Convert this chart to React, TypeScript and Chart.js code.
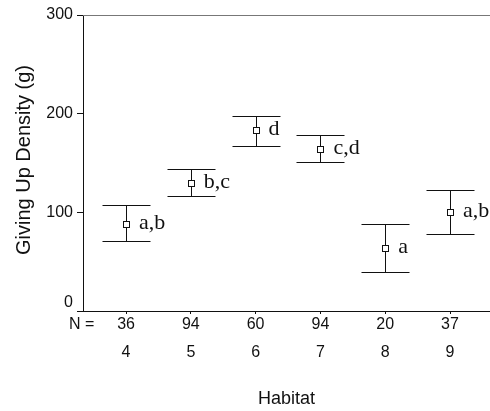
import React, { useEffect, useRef } from "react";
import { Chart, registerables } from "chart.js";

Chart.register(...registerables);

const habitats = [4, 5, 6, 7, 8, 9];
const sampleSizes = ["36", "94", "60", "94", "20", "37"];
const means = [88, 130, 183, 164, 64, 100];
const upper = [107, 144, 198, 178, 88, 123];
const lower = [71, 117, 167, 151, 40, 78];
const groupLetters = ["a,b", "b,c", "d", "c,d", "a", "a,b"];
const yTicks = [0, 100, 200, 300];

const SANS = 'Arial, "Liberation Sans", sans-serif';
const SERIF = '"Times New Roman", "Liberation Serif", serif';

const decorPlugin = {
  id: "decor",
  afterDatasetsDraw(chart: any) {
    const { ctx, chartArea, scales } = chart;
    const xs = scales.x;
    const ys = scales.y;
    ctx.save();
    // top frame line
    ctx.strokeStyle = "#777";
    ctx.lineWidth = 1;
    ctx.beginPath();
    ctx.moveTo(chartArea.left, chartArea.top + 0.5);
    ctx.lineTo(chartArea.right, chartArea.top + 0.5);
    ctx.stroke();

    // error bars
    ctx.strokeStyle = "#111";
    ctx.lineWidth = 1;
    habitats.forEach((h, i) => {
      const x = Math.round(xs.getPixelForValue(h)) + 0.5;
      const yt = Math.round(ys.getPixelForValue(upper[i])) + 0.5;
      const yb = Math.round(ys.getPixelForValue(lower[i])) + 0.5;
      const half = 24;
      ctx.beginPath();
      ctx.moveTo(x, yt);
      ctx.lineTo(x, yb);
      ctx.moveTo(x - half, yt);
      ctx.lineTo(x + half, yt);
      ctx.moveTo(x - half, yb);
      ctx.lineTo(x + half, yb);
      ctx.stroke();
    });

    // mean markers
    habitats.forEach((h, i) => {
      const x = Math.round(xs.getPixelForValue(h));
      const y = Math.round(ys.getPixelForValue(means[i]));
      ctx.fillStyle = "#fff";
      ctx.fillRect(x - 3, y - 3, 6, 6);
      ctx.strokeStyle = "#111";
      ctx.strokeRect(x - 2.5, y - 2.5, 6, 6);
    });

    // group letters
    ctx.fillStyle = "#111";
    ctx.font = `22px ${SERIF}`;
    ctx.textAlign = "left";
    ctx.textBaseline = "alphabetic";
    habitats.forEach((h, i) => {
      const x = xs.getPixelForValue(h) + 13;
      const y = ys.getPixelForValue(means[i]) + 5;
      ctx.fillText(groupLetters[i], x, y);
    });

    // N = label
    ctx.font = `16px ${SANS}`;
    ctx.textBaseline = "middle";
    ctx.fillText("N =", 69, 325);

    // axis titles
    ctx.font = `18px ${SANS}`;
    ctx.textAlign = "center";
    ctx.fillText("Habitat", (chartArea.left + chartArea.right) / 2, 399);

    ctx.save();
    ctx.translate(24, 160);
    ctx.rotate(-Math.PI / 2);
    ctx.font = `20px ${SANS}`;
    ctx.textAlign = "center";
    ctx.textBaseline = "middle";
    ctx.fillText("Giving Up Density (g)", 0, 0);
    ctx.restore();

    ctx.restore();
  },
};

export default function App() {
  const ref = useRef<HTMLCanvasElement | null>(null);
  useEffect(() => {
    if (!ref.current) return;
    const chart = new Chart(ref.current, {
      type: "scatter",
      data: {
        datasets: [
          {
            data: habitats.map((h, i) => ({ x: h, y: means[i] })),
            pointRadius: 0,
            showLine: false,
          },
        ],
      },
      options: {
        animation: false,
        responsive: false,
        maintainAspectRatio: false,
        layout: { padding: { top: 15, right: 0, left: 0, bottom: 0 } },
        plugins: { legend: { display: false }, tooltip: { enabled: false } },
        scales: {
          x: {
            type: "linear",
            min: 3.336,
            max: 9.617,
            afterBuildTicks: (scale: any) => {
              scale.ticks = habitats.map((h) => ({ value: h }));
            },
            afterFit: (scale: any) => {
              scale.height = 100;
            },
            grid: {
              display: true,
              drawOnChartArea: false,
              drawTicks: true,
              tickLength: 3,
              color: "#111",
            },
            border: { display: true, color: "#111", width: 1 },
            ticks: {
              autoSkip: false,
              maxRotation: 0,
              padding: 4,
              color: "#111",
              font: { family: SANS, size: 16, lineHeight: "14px" },
              callback: (v: any) => {
                const i = habitats.indexOf(Number(v));
                return i >= 0 ? [sampleSizes[i], "", String(habitats[i])] : "";
              },
            },
          },
          y: {
            type: "linear",
            min: 0,
            max: 300,
            afterBuildTicks: (scale: any) => {
              scale.ticks = yTicks.map((v) => ({ value: v }));
            },
            afterFit: (scale: any) => {
              scale.width = 83;
            },
            grid: {
              display: true,
              drawOnChartArea: false,
              drawTicks: true,
              tickLength: 6,
              color: "#111",
            },
            border: { display: true, color: "#111", width: 1 },
            ticks: {
              padding: 4,
              color: "#111",
              font: { family: SANS, size: 16, lineHeight: "16px" },
              callback: (v: any) => (Number(v) === 0 ? ["0", ""] : String(v)),
            },
          },
        },
      },
      plugins: [decorPlugin],
    });
    return () => chart.destroy();
  }, []);
  return (
    <div style={{ position: "fixed", left: 0, top: 0, width: 490, height: 411, background: "#fff" }}>
      <canvas ref={ref} width={490} height={411} style={{ width: 490, height: 411, display: "block" }} />
    </div>
  );
}
